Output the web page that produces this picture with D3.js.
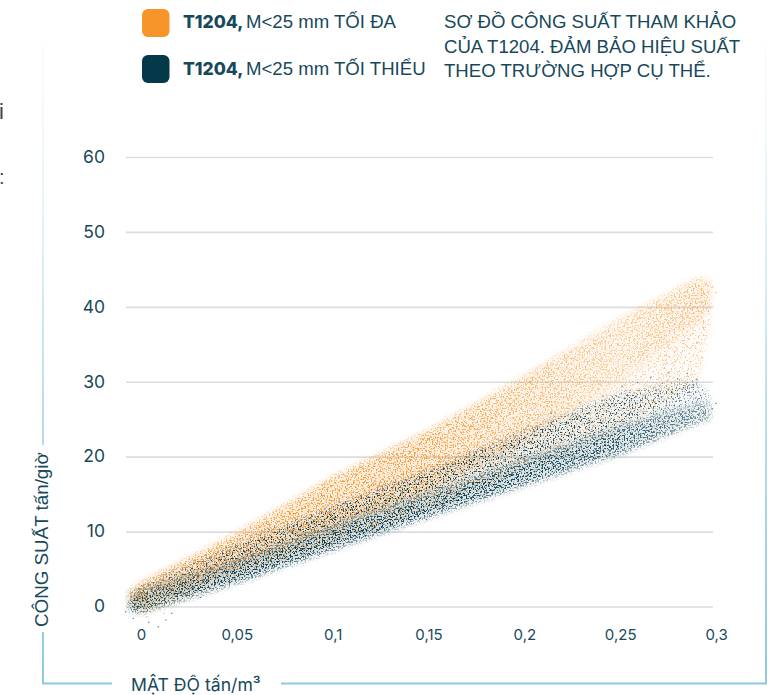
<!DOCTYPE html>
<html>
<head>
<meta charset="utf-8">
<script src="https://cdn.jsdelivr.net/npm/d3@7"></script>
<style>
  html, body { margin: 0; padding: 0; background: #fff; }
  svg { display: block; }
  text { fill: #17495a; }
  .sans { font-family: "Liberation Sans", Arial, sans-serif; }
  .inter { font-family: Inter, sans-serif; }
</style>
</head>
<body>
<div id="chart"></div>
<script>
// values (x in t/m3, y in t/h)
const yTicks = [0, 10, 20, 30, 40, 50, 60]
const xTicks = [0, 0.05, 0.1, 0.15, 0.2, 0.25, 0.3]
const xTickLabels = ['0', '0,05', '0,1', '0,15', '0,2', '0,25', '0,3']

// outline of each cloud: x stops, then the edges of its dense and sparse parts
const bandX = [-0.006, 0, 0.05, 0.1, 0.15, 0.2, 0.25, 0.29, 0.297]
const orangeLow = [0.6, 0, 5.4, 10.4, 15.5, 22, 30, 38, 40]
const orangeHigh = [2, 3.2, 9.8, 17.3, 23.5, 30.8, 38.5, 43.8, 43.6]
const orangeSparseLow = [0.2, -1, 4, 8.5, 13, 18.5, 23.5, 30, 37]
const darkLow = [-0.6, -0.8, 3.2, 7.6, 12, 16.2, 20.4, 24.4, 25]
const darkHigh = [1.2, 2, 6, 10.6, 15, 19.5, 24, 27, 27.3]
const darkSparseHigh = [1.8, 2.6, 8.2, 13.4, 18.2, 23.4, 28.5, 30.2, 28]

// single specks in the sparse parts of the clouds, estimated by eye.
// the dense parts cannot be read point by point: there the outline above is
// drawn with a grain filter, which is only a texture and carries no values
const orangePoints = [
  [0.003,-1.4],[0.012,-0.9],[0.027,1.7],[0.206,23.4],[0.212,26.8],[0.219,22.9],[0.223,27.7],[0.227,25.1],[0.233,23.8],[0.236,29.2],
  [0.238,26.3],[0.241,24.6],[0.244,31.4],[0.246,27.9],[0.249,25.3],[0.252,29.6],[0.254,33.1],[0.255,26.7],[0.258,30.8],[0.26,24.9],
  [0.262,28.2],[0.263,34.6],[0.265,31.7],[0.267,26.4],[0.268,29.3],[0.27,36.2],[0.271,33.4],[0.273,27.6],[0.274,30.9],[0.275,34.9],
  [0.277,28.7],[0.278,32.2],[0.279,35.9],[0.281,30.3],[0.282,33.6],[0.283,37.1],[0.284,29.2],[0.285,34.7],[0.287,31.8],[0.288,36.4],
  [0.29,35.1],[0.291,38.2],[0.293,33.2],[0.294,36.9],[0.296,39.4],[0.298,42.6],[0.3,41.9],[0.176,18.4],[0.188,20.6],[0.197,19.4]
]
const darkPoints = [
  [-0.008,-0.7],[-0.004,-1.6],[0.004,-2.1],[0.009,-2.7],[0.013,-1.8],[0.016,-0.9],[0.031,1.2],[0.058,3.9],[0.082,6.4],[0.117,9.4],
  [0.149,11.6],[0.18,15.2],[0.202,24.1],[0.214,25.8],[0.222,24.4],[0.229,27.2],[0.234,25.9],[0.241,28.1],[0.247,26.9],[0.251,29.4],
  [0.256,27.7],[0.259,29.9],[0.263,28.2],[0.266,30.6],[0.269,28.9],[0.272,29.8],[0.275,31.2],[0.277,28.6],[0.28,30.4],[0.283,29.2],
  [0.285,31.1],[0.288,29.6],[0.29,30.3],[0.293,28.9],[0.268,22.1],[0.277,23.2],[0.284,24.1],[0.292,24.9],[0.298,26.4],[0.3,27.1]
]

const legendNames = ['T1204,', 'T1204,']
const legendLabels = ['M<25 mm TỐI ĐA', 'M<25 mm TỐI THIỂU']
const legendColors = ['#f7952b', '#04394a']
const noteLines = ['SƠ ĐỒ CÔNG SUẤT THAM KHẢO', 'CỦA T1204. ĐẢM BẢO HIỆU SUẤT', 'THEO TRƯỜNG HỢP CỤ THỂ.']

const svg = d3.select('#chart').append('svg').attr('width', 770).attr('height', 695)
const defs = svg.append('defs')

const x = d3.scaleLinear().domain([0, 0.3]).range([141, 716])
const y = d3.scaleLinear().domain([0, 60]).range([606.5, 157])

// frame fades out towards the top
const frameGrad = defs.append('linearGradient')
  .attr('id', 'frameGrad').attr('gradientUnits', 'userSpaceOnUse')
  .attr('x1', 0).attr('y1', 683).attr('x2', 0).attr('y2', 45)
frameGrad.append('stop').attr('offset', 0).attr('stop-color', '#8ccbdc')
frameGrad.append('stop').attr('offset', 0.45).attr('stop-color', '#b9e0ea')
frameGrad.append('stop').attr('offset', 1).attr('stop-color', '#e6f4f7').attr('stop-opacity', 0.2)

svg.append('path')
  .attr('d', 'M43,45V445M43,632V683.5H112M281,683.5H766V45')
  .attr('fill', 'none').attr('stroke', 'url(#frameGrad)').attr('stroke-width', 2)

// grid and y labels
svg.append('g')
  .attr('transform', 'translate(126,0)')
  .call(d3.axisLeft(y).tickValues(yTicks).tickSize(-587).tickPadding(21))
  .call(g => g.select('.domain').remove())
  .call(g => g.selectAll('line').attr('stroke', '#d9dee1').attr('stroke-width', 1.6))
  .call(g => g.selectAll('text').attr('class', 'inter').style('font-size', '17.5px').style('font-weight', 400).attr('dy', '0.3em'))

// x labels
svg.append('g')
  .attr('transform', 'translate(0,620)')
  .call(d3.axisBottom(x).tickValues(xTicks).tickFormat((d, i) => xTickLabels[i]).tickSize(0).tickPadding(9))
  .call(g => g.select('.domain').remove())
  .call(g => g.selectAll('text').attr('class', 'inter').style('font-size', '15px').style('font-weight', 400))

// grain filter: soft edge of the outline, broken up by fine noise
function grainFilter (id, seed, gain, cut, haze) {
  const f = defs.append('filter').attr('id', id)
    .attr('x', '-5%').attr('y', '-10%').attr('width', '110%').attr('height', '120%')
    .attr('color-interpolation-filters', 'sRGB')
  f.append('feGaussianBlur').attr('in', 'SourceGraphic').attr('stdDeviation', 3).attr('result', 'soft')
  f.append('feTurbulence').attr('type', 'fractalNoise').attr('baseFrequency', 0.62)
    .attr('numOctaves', 3).attr('seed', seed).attr('result', 'noise')
  f.append('feColorMatrix').attr('in', 'noise').attr('type', 'matrix')
    .attr('values', `0 0 0 0 0  0 0 0 0 0  0 0 0 0 0  ${gain} 0 0 0 ${cut}`).attr('result', 'mask')
  f.append('feComposite').attr('in', 'soft').attr('in2', 'mask').attr('operator', 'in').attr('result', 'grain')
  f.append('feComponentTransfer').attr('in', 'soft').attr('result', 'haze')
    .append('feFuncA').attr('type', 'linear').attr('slope', haze)
  const m = f.append('feMerge')
  m.append('feMergeNode').attr('in', 'haze')
  m.append('feMergeNode').attr('in', 'grain')
}
grainFilter('orangeGrain', 3, 7, -3.5, 0.16)
grainFilter('orangeSparse', 5, 9, -5.2, 0.04)
grainFilter('darkGrain', 11, 8, -4, 0.16)
grainFilter('darkSparse', 17, 9, -5.1, 0.07)

function fadeGrad (id, color, opacities) {
  const g = defs.append('linearGradient').attr('id', id).attr('gradientUnits', 'userSpaceOnUse')
    .attr('x1', x(0)).attr('y1', 0).attr('x2', x(0.3)).attr('y2', 0)
  opacities.forEach((o, i) => {
    g.append('stop').attr('offset', i / (opacities.length - 1)).attr('stop-color', color).attr('stop-opacity', o)
  })
}
fadeGrad('orangeFade', '#f7952b', [0.9, 0.9, 0.9, 0.85, 0.62, 0.42, 0.6])
fadeGrad('darkFade', '#04394a', [0.9, 0.95, 0.95, 0.95, 0.9, 0.8, 0.5])

function band (low, high) {
  return d3.area()
    .x((d, i) => x(bandX[i]))
    .y0((d, i) => y(low[i]))
    .y1((d, i) => y(high[i]))(bandX)
}

svg.append('path').attr('d', band(orangeSparseLow, orangeLow)).attr('fill', 'url(#orangeFade)').attr('filter', 'url(#orangeSparse)')
svg.append('path').attr('d', band(orangeLow, orangeHigh)).attr('fill', 'url(#orangeFade)').attr('filter', 'url(#orangeGrain)')
svg.append('path').attr('d', band(darkHigh, darkSparseHigh)).attr('fill', 'url(#darkFade)').attr('filter', 'url(#darkSparse)')
svg.append('path').attr('d', band(darkLow, darkHigh)).attr('fill', 'url(#darkFade)').attr('filter', 'url(#darkGrain)')

svg.append('g').selectAll('circle').data(orangePoints).enter().append('circle')
  .attr('cx', d => x(d[0])).attr('cy', d => y(d[1])).attr('r', 0.8)
  .attr('fill', '#f7952b').attr('opacity', 0.6)
svg.append('g').selectAll('circle').data(darkPoints).enter().append('circle')
  .attr('cx', d => x(d[0])).attr('cy', d => y(d[1])).attr('r', 0.8)
  .attr('fill', '#04394a').attr('opacity', 0.6)

// legend
legendLabels.forEach((label, i) => {
  const top = [9, 55][i]
  const base = [28, 75][i]
  svg.append('rect').attr('x', 142).attr('y', top).attr('width', 27.5).attr('height', 28)
    .attr('rx', 6).attr('fill', legendColors[i])
  svg.append('text').attr('class', 'inter').attr('x', 183).attr('y', base)
    .style('font-size', '17.5px').style('font-weight', 800).text(legendNames[i])
  svg.append('text').attr('class', 'sans').attr('x', 246).attr('y', base)
    .style('font-size', '18.6px').text(label)
})

noteLines.forEach((line, i) => {
  svg.append('text').attr('class', 'sans').attr('x', 444).attr('y', [28, 53, 77][i])
    .style('font-size', '18.6px').text(line)
})

// axis titles
svg.append('text').attr('class', 'sans')
  .attr('transform', 'translate(48,627) rotate(-90)')
  .style('font-size', '18.8px').text('CÔNG SUẤT tấn/giờ')

svg.append('text').attr('class', 'inter').attr('x', 131).attr('y', 691).style('font-size', '17.6px').text('MẬT ĐỘ tấn/m³')

// bits of cropped text on the left edge
svg.append('text').attr('class', 'sans').attr('x', -1).attr('y', 119).style('font-size', '22px').style('fill', '#444').text('i')
svg.append('text').attr('class', 'sans').attr('x', -1).attr('y', 184).style('font-size', '20px').style('fill', '#444').text(':')
</script>
</body>
</html>
